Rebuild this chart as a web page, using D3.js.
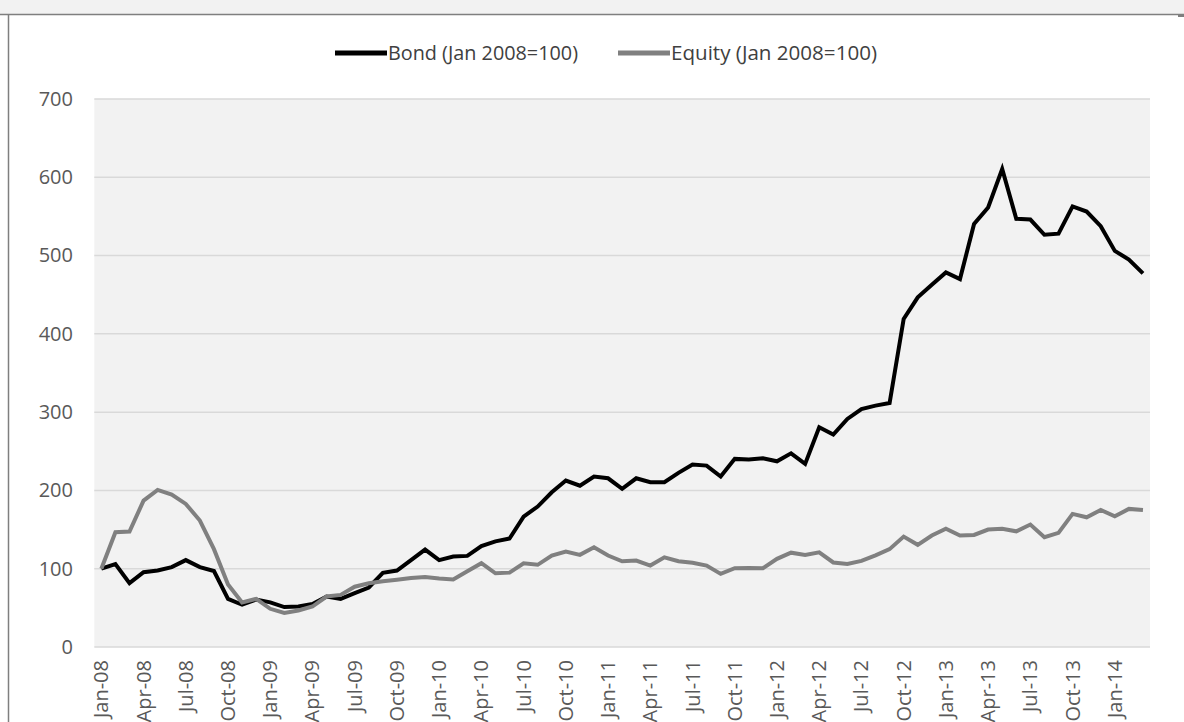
<!DOCTYPE html>
<html>
<head>
<meta charset="utf-8">
<script src="https://cdn.jsdelivr.net/npm/d3@7"></script>
<style>
  html, body { margin: 0; padding: 0; background: #ffffff; }
  svg { display: block; font-family: "Open Sans", "Noto Sans", sans-serif; }
</style>
</head>
<body>
<svg id="chart" width="1184" height="722"></svg>
<script>
// ---- Data (monthly, Jan-08 .. Mar-14) ----
const startMonth = "2008-01";
const monthCount = 75;
const seriesNames = ["Bond (Jan 2008=100)", "Equity (Jan 2008=100)"];
const bondValues = [
  100, 106, 81.5, 95.5, 97.7, 102, 111, 102, 97, 61.5, 54, 60.6,
  57, 51, 51.7, 55, 64.5, 61.5, 68.7, 76, 94.7, 97.7, 111, 124.5,
  111, 115.5, 116.4, 129, 135, 138.5, 166.6, 179.4, 197.6, 212.6, 206, 217.7,
  215.5, 202, 215.5, 210.4, 210.4, 222.4, 233, 231.7, 217.7, 240.3, 239.4, 241,
  237.2, 247.4, 233.9, 280.6, 271.3, 291.3, 304, 308.3, 311.7, 419, 446.6, 462.8,
  478.5, 470, 540.3, 561.5, 610.5, 547, 546, 526.6, 528, 562.8, 556.2, 537.5,
  506, 495, 477.2
];
const equityValues = [
  100, 146.6, 147.5, 187, 200.7, 194.7, 182.8, 161.5, 125, 80, 57, 61.5,
  48.8, 43.6, 46.6, 51.7, 64.5, 66.6, 77, 81.5, 84, 85.8, 88, 89.5,
  87.5, 86.2, 96.8, 107, 94.2, 95, 107, 105, 116.8, 122, 117.7, 127.4,
  116.8, 109.5, 110.4, 104, 114.6, 109.5, 107.5, 104, 93.4, 100.6, 101, 100.6,
  112.6, 120.5, 117.7, 121, 108, 106, 110, 117, 125, 141, 130.5, 142.4,
  151, 142.4, 143.2, 150, 151, 147.8, 156.4, 140.2, 145.8, 170, 165.7, 175,
  167, 176.4, 175
];
const yTicks = [0, 100, 200, 300, 400, 500, 600, 700];
const xTickEvery = 3; // a label every quarter

// ---- Layout ----
const svg = d3.select("#chart");
const W = 1184, H = 722;
const plot = { left: 94.3, right: 1150, top: 99, bottom: 647 };

const fmt = d3.timeFormat("%b-%y");
const start = d3.timeParse("%Y-%m")(startMonth);
const months = d3.range(monthCount).map(i => fmt(d3.timeMonth.offset(start, i)));

const x = d3.scaleBand().domain(months).range([plot.left, plot.right]).padding(0);
const xc = d => x(d) + x.bandwidth() / 2;
const y = d3.scaleLinear().domain([0, 700]).range([plot.bottom, plot.top]);

// outer frame pieces
svg.append("rect").attr("x", 0).attr("y", 0).attr("width", W).attr("height", 14)
  .attr("fill", "#f2f2f2");
svg.append("line").attr("x1", 0).attr("x2", W).attr("y1", 14.5).attr("y2", 14.5)
  .attr("stroke", "#7f7f7f").attr("stroke-width", 1.5);
svg.append("line").attr("x1", 8.5).attr("x2", 8.5).attr("y1", 14).attr("y2", H)
  .attr("stroke", "#7f7f7f").attr("stroke-width", 1.5);
svg.append("rect").attr("x", 1178).attr("y", 14).attr("width", 6).attr("height", 3)
  .attr("fill", "#7f7f7f");

// plot background
svg.append("rect")
  .attr("x", plot.left).attr("y", plot.top)
  .attr("width", plot.right - plot.left).attr("height", plot.bottom - plot.top)
  .attr("fill", "#f2f2f2");

// gridlines
svg.append("g").selectAll("line").data(yTicks).join("line")
  .attr("x1", plot.left).attr("x2", plot.right)
  .attr("y1", d => y(d)).attr("y2", d => y(d))
  .attr("stroke", "#d9d9d9").attr("stroke-width", 1.5);

// y axis labels
const yAxis = d3.axisLeft(y).tickValues(yTicks).tickSize(0).tickPadding(0)
  .tickFormat(d3.format("d"));
const gy = svg.append("g").attr("transform", `translate(73,0)`).call(yAxis);
gy.select(".domain").remove();
gy.selectAll("text").attr("fill", "#595959").style("font-size", "20px")
  .style("font-family", "'Open Sans', sans-serif");

// x axis labels
const xAxis = d3.axisBottom(x)
  .tickValues(months.filter((m, i) => i % xTickEvery === 0))
  .tickSize(0).tickPadding(0);
const gx = svg.append("g").attr("transform", `translate(0,${plot.bottom})`).call(xAxis);
gx.select(".domain").remove();
gx.selectAll("text")
  .attr("fill", "#595959").style("font-size", "20px")
  .style("font-family", "'Open Sans', sans-serif")
  .attr("text-anchor", "end")
  .attr("dy", "0.35em")
  .attr("transform", "translate(0,13) rotate(-90)")
  .attr("x", 0).attr("y", 0);

// lines
const series = [
  { name: seriesNames[0], values: bondValues, color: "#000000" },
  { name: seriesNames[1], values: equityValues, color: "#808080" }
];
const line = d3.line().x((d, i) => xc(months[i])).y(d => y(d));
svg.append("g").selectAll("path").data(series).join("path")
  .attr("d", s => line(s.values))
  .attr("fill", "none")
  .attr("stroke", s => s.color)
  .attr("stroke-width", 4)
  .attr("stroke-linejoin", "miter")
  .attr("stroke-miterlimit", 4);

// legend
const legendItems = [
  { s: series[0], x0: 335, tw: 190 },
  { s: series[1], x0: 618, tw: 206 }
];
const lg = svg.append("g");
legendItems.forEach(it => {
  lg.append("line").attr("x1", it.x0).attr("x2", it.x0 + 52)
    .attr("y1", 53).attr("y2", 53)
    .attr("stroke", it.s.color).attr("stroke-width", 5);
  lg.append("text").attr("x", it.x0 + 53).attr("y", 53).attr("dy", "0.35em")
    .attr("fill", "#404040").style("font-size", "20px")
    .style("font-family", "'Open Sans', sans-serif")
    .attr("textLength", it.tw).attr("lengthAdjust", "spacingAndGlyphs")
    .text(it.s.name);
});
</script>
</body>
</html>
